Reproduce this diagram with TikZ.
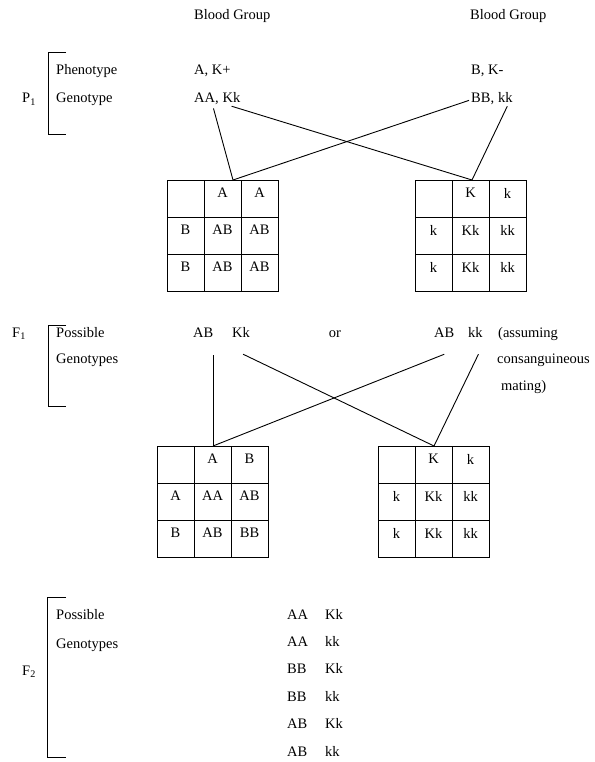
\documentclass[tikz,border=0pt]{standalone}
\usepackage{fontspec}
\setmainfont{Liberation Serif}
\usetikzlibrary{positioning}

\begin{document}
\begin{tikzpicture}[x=1pt, y=-1pt, font=\fontsize{14.5}{17}\selectfont,
    txt/.style={inner sep=0pt, anchor=base west},
    cell/.style={inner sep=0pt},
    gridline/.style={line width=1pt},
    bracket/.style={line width=1pt},
    cross/.style={line width=0.9pt}]
    \useasboundingbox (0,0) rectangle (594,762);

    % ================= P1 (parents) =================
    \node[txt] (bgl) at (194,20) {Blood Group};
    \node[txt] (bgr) at (470,20) {Blood Group};

    \draw[bracket] (66,53) -- (48,53) -- (48,135) -- (66,135);
    \node[txt] (p1lab) at (22,103) {P\textsubscript{1}};
    \node[txt] (pheno) at (56,75) {Phenotype};
    \node[txt] (geno)  at (56,103) {Genotype};

    \node[txt] (phA) at (194,75) {A, K+};
    \node[txt] (aa)  at (194,103) {AA,};
    \node[txt] (kkA) at ([xshift=3.5pt]aa.base east) {Kk};
    \node[txt] (phB) at (471,75) {B, K-};
    \node[txt] (bb)  at (471,103) {BB,};
    \node[txt] (kkB) at ([xshift=3.5pt]bb.base east) {kk};

    % junctions on top of the squares
    \coordinate (jp1l) at (233,180);
    \coordinate (jp1r) at (472,180);

    % 1. Blood group square
    \begin{scope}[shift={(167,180)}]
        \draw[gridline] (0,0) rectangle (111,111);
        \foreach \v in {37,74} {
            \draw[gridline] (\v,0) -- (\v,111);
            \draw[gridline] (0,\v) -- (111,\v);
        }
        \foreach \c/\r/\t in {1/0/A, 2/0/A, 0/1/B, 1/1/AB, 2/1/AB, 0/2/B, 1/2/AB, 2/2/AB}
            \node[cell] (pl\c\r) at (\c*37+18.5, \r*37+13) {\t};
    \end{scope}

    % 2. Kell square
    \begin{scope}[shift={(415,180)}]
        \draw[gridline] (0,0) rectangle (111,111);
        \foreach \v in {37,74} {
            \draw[gridline] (\v,0) -- (\v,111);
            \draw[gridline] (0,\v) -- (111,\v);
        }
        \foreach \c/\r/\t in {1/0/K, 2/0/k, 0/1/k, 1/1/Kk, 2/1/kk, 0/2/k, 1/2/Kk, 2/2/kk}
            \node[cell] (pr\c\r) at (\c*37+18.5, \r*37+13) {\t};
    \end{scope}

    % 3. Crossing lines
    \draw[cross] ([xshift=7pt,yshift=-3pt]aa.south) -- (jp1l);
    \draw[cross] ([yshift=-3pt]kkA.south) -- (jp1r);
    \draw[cross] ([xshift=-2pt,yshift=-1pt]bb.west) -- (jp1l);
    \draw[cross] ([xshift=2pt,yshift=-3pt]kkB.south) -- (jp1r);

    % ================= F1 =================
    \draw[bracket] (66,325) -- (48,325) -- (48,406) -- (66,406);
    \node[txt] (f1lab) at (12,337) {F\textsubscript{1}};
    \node[txt] (poss1) at (56,337) {Possible};
    \node[txt] (gen1)  at (56,363) {Genotypes};

    \node[txt] (abL) at (193,337) {AB};
    \node[txt] (kkL) at (232,337) {Kk};
    \node[txt, anchor=base] (or) at (335,337) {or};
    \node[txt] (abR) at (434,337) {AB};
    \node[txt] (kkR) at (468,337) {kk};
    \node[txt] (assum) at (498,337) {(assuming};
    \node[txt] (consa) at (497,363) {consanguineous};
    \node[txt] (matin) at (501,390) {mating)};

    \coordinate (jf1l) at (213,446);
    \coordinate (jf1r) at (434,446);

    % 1. Blood group square
    \begin{scope}[shift={(157,446)}]
        \draw[gridline] (0,0) rectangle (111,111);
        \foreach \v in {37,74} {
            \draw[gridline] (\v,0) -- (\v,111);
            \draw[gridline] (0,\v) -- (111,\v);
        }
        \foreach \c/\r/\t in {1/0/A, 2/0/B, 0/1/A, 1/1/AA, 2/1/AB, 0/2/B, 1/2/AB, 2/2/BB}
            \node[cell] (fl\c\r) at (\c*37+18.5, \r*37+13) {\t};
    \end{scope}

    % 2. Kell square
    \begin{scope}[shift={(378,446)}]
        \draw[gridline] (0,0) rectangle (111,111);
        \foreach \v in {37,74} {
            \draw[gridline] (\v,0) -- (\v,111);
            \draw[gridline] (0,\v) -- (111,\v);
        }
        \foreach \c/\r/\t in {1/0/K, 2/0/k, 0/1/k, 1/1/Kk, 2/1/kk, 0/2/k, 1/2/Kk, 2/2/kk}
            \node[cell] (fr\c\r) at (\c*37+18.5, \r*37+13) {\t};
    \end{scope}

    % 3. Crossing lines
    \draw[cross] ([yshift=-18pt]abL.south) ++(10,0) coordinate (abLt) -- (abLt |- jf1l);
    \draw[cross] ([xshift=2pt,yshift=-17pt]kkL.south) -- (jf1r);
    \draw[cross] ([yshift=-17pt]abR.south) -- (jf1l);
    \draw[cross] ([xshift=3pt,yshift=-17pt]kkR.south) -- (jf1r);

    % ================= F2 =================
    \draw[bracket] (66,597) -- (47,597) -- (47,757) -- (66,757);
    \node[txt] (f2lab) at (22,675) {F\textsubscript{2}};
    \node[txt] (poss2) at (56,619) {Possible};
    \node[txt] (gen2)  at (56,648) {Genotypes};

    \foreach \g/\k [count=\i from 0] in {AA/Kk, AA/kk, BB/Kk, BB/kk, AB/Kk, AB/kk} {
        \node[txt] (f2g\i) at (287,619+\i*27.4) {\g};
        \node[txt] (f2k\i) at (325,619+\i*27.4) {\k};
    }

\end{tikzpicture}
\end{document}
